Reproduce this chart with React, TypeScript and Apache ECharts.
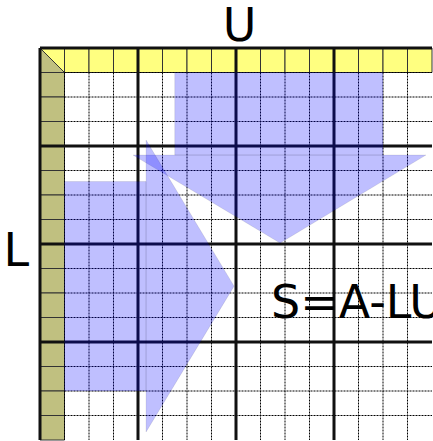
import React, { useEffect, useRef } from 'react';
import * as echarts from 'echarts';

// ---- data ----
const GRID_CELLS = 16;
const MAJOR_LINES = [0, 4, 8, 12];
const MINOR_LINES = [1, 2, 3, 5, 6, 7, 9, 10, 11, 13, 14, 15];
const HEADER_COLUMNS = [1, 2, 3, 4, 5, 6, 7, 8, 9, 10, 11, 12, 13, 14, 15];
const HEADER_ROWS = [1, 2, 3, 4, 5, 6, 7, 8, 9, 10, 11, 12, 13, 14, 15];

// arrow shapes in cell units (x = column, y = row from top)
const U_ARROW_BODY = [[5.5, 1], [14, 1], [14, 4.37], [5.5, 4.37]];
const U_ARROW_HEAD = [[3.8, 4.37], [15.75, 4.37], [9.8, 7.96]];
const L_ARROW_BODY = [[1, 5.45], [4.33, 5.45], [4.33, 14], [1, 14]];
const L_ARROW_HEAD = [[4.33, 3.76], [7.92, 9.72], [4.33, 15.67]];
const SHAPES = [U_ARROW_BODY, L_ARROW_BODY, U_ARROW_HEAD, L_ARROW_HEAD];

const LABEL_TOP = 'U';
const LABEL_LEFT = 'L';
const LABEL_FORMULA = 'S=A-LU';

const YELLOW = '#ffff80';
const OLIVE = '#c0c080';
const BLUE = 'rgba(0,0,255,0.25)';
const FONT = '"DejaVu Sans", sans-serif';

export default function App() {
  const ref = useRef<HTMLDivElement>(null);

  useEffect(() => {
    if (!ref.current) return;
    const chart = echarts.init(ref.current, null, { renderer: 'svg' });

    const cellData: number[][] = [
      ...HEADER_COLUMNS.map((c) => [c, 0, 0]),
      ...HEADER_ROWS.map((r) => [0, r, 1]),
      [0, 0, 2],
    ];

    const lineData: number[][] = [];
    MINOR_LINES.forEach((i) => {
      lineData.push([i, 1, i, GRID_CELLS, 0]);
      lineData.push([1, i, GRID_CELLS, i, 0]);
    });
    MAJOR_LINES.forEach((i) => {
      lineData.push([i, 0, i, GRID_CELLS, 1]);
      lineData.push([0, i, GRID_CELLS, i, 1]);
    });

    const option: any = {
      animation: false,
      grid: { left: 40, top: 48, width: 392, height: 392, containLabel: false },
      xAxis: { type: 'value', min: 0, max: GRID_CELLS, show: false },
      yAxis: { type: 'value', min: 0, max: GRID_CELLS, inverse: true, show: false },
      series: [
        {
          type: 'custom',
          coordinateSystem: 'cartesian2d',
          clip: false,
          silent: true,
          z: 1,
          data: cellData,
          renderItem: (params: any, api: any) => {
            const c = api.value(0);
            const r = api.value(1);
            const k = api.value(2);
            const p0 = api.coord([c, r]);
            const p1 = api.coord([c + 1, r + 1]);
            if (k === 2) {
              return {
                type: 'group',
                children: [
                  {
                    type: 'polygon',
                    shape: { points: [p0, [p1[0], p0[1]], p1] },
                    style: { fill: YELLOW, stroke: '#333', lineWidth: 1 },
                  },
                  {
                    type: 'polygon',
                    shape: { points: [p0, [p0[0], p1[1]], p1] },
                    style: { fill: OLIVE, stroke: '#333', lineWidth: 1 },
                  },
                ],
              };
            }
            return {
              type: 'rect',
              shape: { x: p0[0], y: p0[1], width: p1[0] - p0[0], height: p1[1] - p0[1] },
              style: { fill: k === 0 ? YELLOW : OLIVE, stroke: '#333', lineWidth: 1 },
            };
          },
        },
        {
          type: 'custom',
          coordinateSystem: 'cartesian2d',
          clip: false,
          silent: true,
          z: 2,
          data: lineData,
          renderItem: (params: any, api: any) => {
            const a = api.coord([api.value(0), api.value(1)]);
            const b = api.coord([api.value(2), api.value(3)]);
            const major = api.value(4) === 1;
            return {
              type: 'line',
              shape: { x1: a[0], y1: a[1], x2: b[0], y2: b[1] },
              style: major
                ? { stroke: '#111', lineWidth: 3 }
                : { stroke: '#000', lineWidth: 1, lineDash: [2, 1] },
            };
          },
        },
        {
          type: 'custom',
          coordinateSystem: 'cartesian2d',
          clip: false,
          silent: true,
          z: 3,
          data: SHAPES.map((_, i) => [i]),
          renderItem: (params: any, api: any) => {
            const pts = SHAPES[params.dataIndex].map((p) => api.coord(p));
            return {
              type: 'polygon',
              shape: { points: pts },
              style: { fill: BLUE, stroke: 'rgba(0,0,0,0.15)', lineWidth: 0.6 },
            };
          },
        },
      ],
      graphic: [
        {
          type: 'text',
          x: 239.5,
          y: 24.5,
          z: 10,
          style: { text: LABEL_TOP, font: `46px ${FONT}`, fill: '#000', align: 'center', verticalAlign: 'middle' },
        },
        {
          type: 'text',
          x: 3.5,
          y: 249.5,
          z: 10,
          style: { text: LABEL_LEFT, font: `46px ${FONT}`, fill: '#000', align: 'left', verticalAlign: 'middle' },
        },
        {
          type: 'text',
          x: 271,
          y: 302,
          z: 10,
          style: { text: LABEL_FORMULA, font: `46px ${FONT}`, fill: '#000', align: 'left', verticalAlign: 'middle' },
        },
      ],
    };

    chart.setOption(option);
    return () => chart.dispose();
  }, []);

  return (
    <div
      ref={ref}
      style={{ position: 'absolute', left: 0, top: 0, width: 433, height: 441, background: '#fff' }}
    />
  );
}
